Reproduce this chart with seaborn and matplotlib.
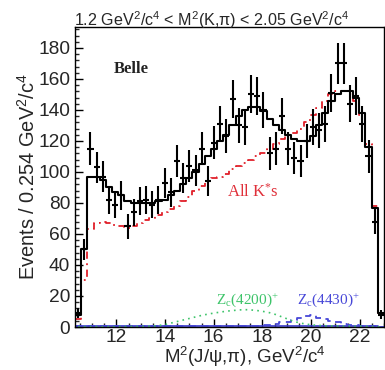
import numpy as np
import pandas as pd
import matplotlib
matplotlib.use("Agg")
import matplotlib.pyplot as plt
import seaborn as sns
from matplotlib.ticker import MultipleLocator

sns.set_style("white")
plt.rcParams['font.family'] = ['Liberation Sans', 'DejaVu Sans']
plt.rcParams['mathtext.default'] = 'regular'

# ---- data ----
x_lo = 10.3
bin_width = 0.254
n_bins = 50
data_counts = [9, 50, 115, 103, 97, 82, 79, 85, 65, 74,
               81, 82, 79, 82, 93, 87, 107, 96, 104, 101,
               115, 94, 119, 131, 123, 147, 130, 129, 150, 149,
               140, 112, 115, 136, 115, 109, 107, 120, 129, 127,
               131, 151, 170, 170, 144, 149, 131, 110, 68, 8]
fit_total = [8, 50, 97, 97, 95, 90, 87, 85, 81, 80,
             80, 80, 80, 81, 82, 85, 88, 92, 96, 100,
             105, 110, 115, 120, 124, 130, 136, 140, 142, 142,
             139, 134, 130, 127, 124, 121, 120, 120, 123, 130,
             138, 146, 150, 152, 152, 148, 138, 116, 77, 9]
all_kstar = [5, 30, 63, 67, 68, 67, 66, 65, 64, 65,
             67, 69, 70, 72, 74, 76, 78, 81, 84, 88,
             91, 94, 96, 97, 99, 102, 104, 106, 108, 110,
             112, 115, 118, 121, 124, 125, 128, 132, 137, 141,
             146, 150, 152, 152, 150, 146, 137, 118, 78, 9]
zc4200 = [0.2, 0.2, 0.2, 0.2, 0.2, 0.2, 0.2, 0.3, 0.3, 0.3,
          0.3, 0.4, 0.5, 1.0, 1.5, 2.5, 3.5, 4.5, 5.5, 6.5,
          7.5, 8.3, 9.0, 9.6, 10.2, 10.6, 11.0, 11.2, 11.0, 10.6,
          10.0, 9.2, 8.0, 6.5, 5.0, 3.5, 2.5, 1.8, 1.3, 1.0,
          0.8, 0.7, 0.6, 0.5, 0.5, 0.4, 0.4, 0.3, 0.2, 0.1]
zc4430 = [0.5, 0.5, 0.5, 0.5, 0.5, 0.5, 0.5, 0.5, 0.5, 0.5,
          0.5, 0.5, 0.5, 0.5, 0.5, 0.5, 0.5, 0.5, 0.5, 0.5,
          0.5, 0.5, 0.5, 0.5, 0.5, 0.5, 0.5, 0.6, 0.7, 0.8,
          1.0, 1.5, 2.0, 3.0, 3.5, 4.5, 6.0, 7.0, 7.5, 6.0,
          5.0, 4.0, 3.0, 2.0, 1.5, 1.0, 0.5, 0.5, 0.5, 0.3]
other_comp = [0.6, 0.6, 0.7, 0.7, 0.7, 0.7, 0.7, 0.7, 0.7, 0.7,
              0.7, 0.7, 0.7, 0.7, 0.7, 0.7, 0.7, 0.7, 0.7, 0.7,
              0.7, 0.7, 0.7, 0.7, 0.7, 0.7, 0.7, 0.7, 0.7, 0.7,
              0.7, 0.7, 0.7, 0.7, 0.7, 0.7, 0.7, 0.7, 0.7, 0.7,
              0.7, 0.7, 0.7, 0.7, 0.7, 0.7, 0.7, 0.7, 0.6, 0.3]
x_ticks = [12, 14, 16, 18, 20, 22]
y_ticks = [0, 20, 40, 60, 80, 100, 120, 140, 160, 180]

edges = [x_lo + bin_width * i for i in range(n_bins + 1)]
centers = [0.5 * (edges[i] + edges[i + 1]) for i in range(n_bins)]
df = pd.DataFrame({"x": centers, "data": data_counts, "fit": fit_total,
                   "kstar": all_kstar, "z4200": zc4200, "z4430": zc4430,
                   "other": other_comp})

fig = plt.figure(figsize=(3.85, 3.70), dpi=100)
ax = fig.add_axes([75 / 385, 43 / 370, 309 / 385, 300 / 370])

sns.histplot(data=df, x="x", weights="other", bins=edges, element="step",
             fill=False, color="#3a3ad0", linewidth=1.2, ax=ax)
sns.histplot(data=df, x="x", weights="z4430", bins=edges, element="step",
             fill=False, color="#4848d8", linewidth=1.3, linestyle=(0, (4, 3)), ax=ax)
sns.lineplot(data=df, x="x", y="z4200", color="#3ec46a", linewidth=1.2,
             linestyle=(0, (1, 2.5)), ax=ax)
sns.histplot(data=df, x="x", weights="kstar", bins=edges, element="step",
             fill=False, color="#e0202a", linewidth=1.3,
             linestyle=(0, (4, 2.5, 1, 2.5)), ax=ax)
sns.histplot(data=df, x="x", weights="fit", bins=edges, element="step",
             fill=False, color="black", linewidth=1.5, ax=ax)
ax.errorbar(df["x"], df["data"], yerr=np.sqrt(df["data"]), xerr=bin_width / 2,
            fmt="none", ecolor="black", elinewidth=1.5, capsize=0)

ax.set_xlim(10.3, 23.0)
ax.set_ylim(0, 193.5)
ax.set_xticks(x_ticks)
ax.set_yticks(y_ticks)
ax.xaxis.set_minor_locator(MultipleLocator(0.5))
ax.yaxis.set_minor_locator(MultipleLocator(4))
ax.tick_params(axis="both", which="major", direction="in", length=6, width=1,
               labelsize=13.8, color="black", top=False, right=False,
               bottom=True, left=True)
ax.tick_params(axis="x", which="major", pad=1.5)
ax.tick_params(axis="y", which="major", pad=3.5)
ax.tick_params(axis="both", which="minor", direction="in", length=3, width=1,
               top=False, right=False, bottom=True, left=True)
for s in ax.spines.values():
    s.set_color("black")
    s.set_linewidth(1.0)

ax.set_xlabel("M$^2$(J/ψ,π), GeV$^2$/c$^4$", fontsize=13.5)
ax.xaxis.label.set_verticalalignment("center")
ax.xaxis.set_label_coords((245 - 75) / 309, (327 - 356.5) / 300)
ax.set_ylabel("Events / 0.254 GeV$^2$/c$^4$", fontsize=14.4)
ax.yaxis.label.set_verticalalignment("center")
ax.yaxis.set_label_coords((28 - 75) / 309, (327 - 176) / 300)
fig.text(212 / 385, 1 - 20 / 370, "1.2 GeV$^2$/c$^4$ < M$^2$(K,π) < 2.05 GeV$^2$/c$^4$",
         ha="center", va="center", fontsize=11.6)

serif = ['Liberation Serif', 'DejaVu Serif']
ax.text(12.6, 166.5, "Belle", ha="center", va="center", fontsize=12,
        fontweight="bold", family=serif, color="#222222")
ax.text(17.62, 87.4, "All K$^{*}$s", ha="center", va="center", fontsize=12,
        family=serif, color="#e0303a")
ax.text(17.39, 17.4, "Z$_c$(4200)$^{+}$", ha="center", va="center", fontsize=11,
        family=serif, color="#3ec46a")
ax.text(20.72, 17.4, "Z$_c$(4430)$^{+}$", ha="center", va="center", fontsize=11,
        family=serif, color="#4848d8")

fig.savefig("out.png", dpi=100)
